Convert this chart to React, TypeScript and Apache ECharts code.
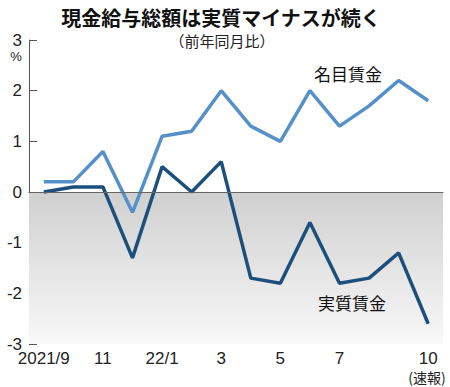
import React, { useEffect, useRef } from "react";
import * as echarts from "echarts";

const categories = ["2021/9", "10", "11", "12", "22/1", "2", "3", "4", "5", "6", "7", "8", "9", "10"];
const tickLabels = ["2021/9", "", "11", "", "22/1", "", "3", "", "5", "", "7", "", "", "10"];
const nominalWage = [0.2, 0.2, 0.8, -0.4, 1.1, 1.2, 2.0, 1.3, 1.0, 2.0, 1.3, 1.7, 2.2, 1.8];
const realWage = [0.0, 0.1, 0.1, -1.3, 0.5, 0.0, 0.6, -1.7, -1.8, -0.6, -1.8, -1.7, -1.2, -2.6];
const yTicks = [-3, -2, -1, 0, 1, 2, 3];

const NUM_FONT = '"Liberation Sans Narrow", "Liberation Sans", Arial, sans-serif';

export default function App() {
  const ref = useRef<HTMLDivElement>(null);
  useEffect(() => {
    if (!ref.current) return;
    const chart = echarts.init(ref.current, undefined, { renderer: "svg" });
    chart.setOption({
      animation: false,
      backgroundColor: "#ffffff",
      grid: { left: 29, right: 7, top: 40, bottom: 43 },
      xAxis: {
        type: "category",
        data: categories,
        boundaryGap: true,
        axisLine: { lineStyle: { color: "#555", width: 1 } },
        axisTick: { inside: true, length: 6, alignWithLabel: true, interval: 0, lineStyle: { color: "#555" } },
        axisLabel: {
          interval: 0,
          margin: 6,
          color: "#222",
          fontFamily: NUM_FONT,
          fontSize: 17,
          formatter: (_v: string, i: number) => tickLabels[i],
        },
        splitLine: { show: false },
      },
      yAxis: {
        type: "value",
        min: -3,
        max: 3,
        interval: 1,
        axisLine: { show: true, lineStyle: { color: "#555", width: 1 } },
        axisTick: { show: true, inside: true, length: 8, lineStyle: { color: "#555" } },
        axisLabel: {
          color: "#222",
          fontFamily: NUM_FONT,
          fontSize: 17,
          margin: 7,
          formatter: (v: number) => (yTicks.includes(v) ? String(v) : ""),
        },
        splitLine: { show: false },
      },
      graphic: [
        {
          type: "text",
          x: 221,
          y: 17,
          z: 100,
          style: { text: "現金給与総額は実質マイナスが続く", font: 'bold 20px "Noto Sans CJK JP", sans-serif', fill: "#111", align: "center", verticalAlign: "middle" },
        },
        {
          type: "text",
          x: 222,
          y: 40,
          z: 100,
          style: { text: "（前年同月比）", font: '15px "Noto Sans CJK JP", sans-serif', fill: "#222", align: "center", verticalAlign: "middle" },
        },
        {
          type: "text",
          x: 16,
          y: 56,
          z: 100,
          style: { text: "%", font: '13px "Liberation Sans Narrow", Arial, sans-serif', fill: "#222", align: "center", verticalAlign: "middle" },
        },
        {
          type: "text",
          x: 348,
          y: 73,
          z: 100,
          style: { text: "名目賃金", font: '17px "Noto Sans CJK JP", sans-serif', fill: "#111", align: "center", verticalAlign: "middle" },
        },
        {
          type: "text",
          x: 352,
          y: 302,
          z: 100,
          style: { text: "実質賃金", font: '17px "Noto Sans CJK JP", sans-serif', fill: "#111", align: "center", verticalAlign: "middle" },
        },
        {
          type: "text",
          x: 427,
          y: 377,
          z: 100,
          style: { text: "(速報)", font: '14px "Noto Sans CJK JP", sans-serif', fill: "#222", align: "center", verticalAlign: "middle" },
        },
      ],
      series: [
        {
          name: "名目賃金",
          type: "line",
          data: nominalWage,
          symbol: "none",
          lineStyle: { color: "#5591c8", width: 3.5 },
          z: 3,
          markArea: {
            silent: true,
            itemStyle: {
              color: new echarts.graphic.LinearGradient(0, 0, 0, 1, [
                { offset: 0, color: "#d0d0d0" },
                { offset: 1, color: "#f8f8f8" },
              ]),
            },
            data: [[{ yAxis: 0 }, { yAxis: -3 }]],
          },
          markLine: {
            silent: true,
            symbol: "none",
            label: { show: false },
            lineStyle: { color: "#666", width: 1, type: "solid" },
            data: [{ yAxis: 0 }],
          },
        },
        {
          name: "実質賃金",
          type: "line",
          data: realWage,
          symbol: "none",
          lineStyle: { color: "#1d4f7c", width: 3.5 },
          z: 4,
        },
      ],
    });
    return () => chart.dispose();
  }, []);
  return <div ref={ref} style={{ width: 450, height: 387, position: "absolute", left: 0, top: 0 }} />;
}
